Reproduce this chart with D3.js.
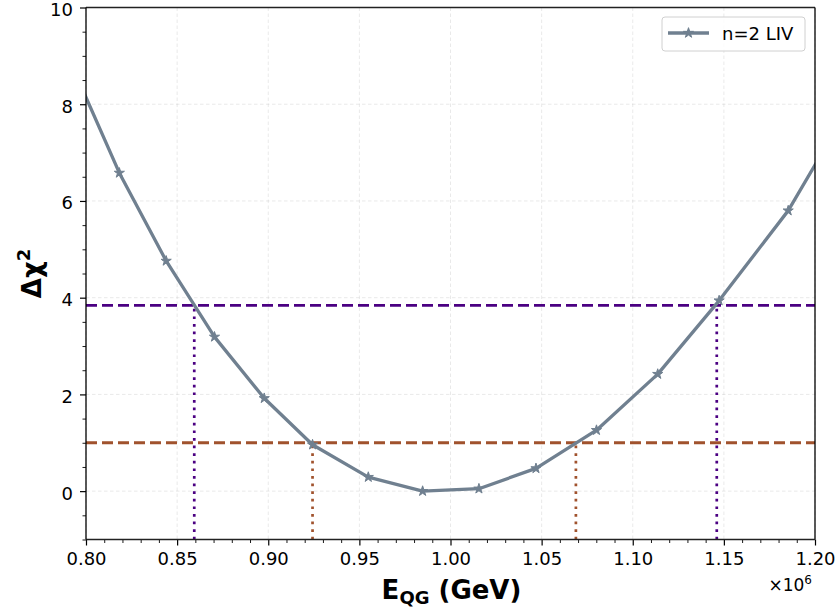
<!DOCTYPE html>
<html>
<head>
<meta charset="utf-8">
<script src="https://cdn.jsdelivr.net/npm/d3@7"></script>
<style>
  body { margin: 0; background: #fff; }
  svg { display: block; font-family: "DejaVu Sans", sans-serif; }
</style>
</head>
<body>
<svg id="chart" width="839" height="615"></svg>
<script>
// ---- data (E_QG in units of 1e6 GeV) ----
const eqg   = [0.7937, 0.8183, 0.8440, 0.8705, 0.8978, 0.9243, 0.9549, 0.9847, 1.0156, 1.0469, 1.0801, 1.1137, 1.1474, 1.1853, 1.2217];
const dchi2 = [8.68,   6.58,   4.76,   3.19,   1.92,   0.96,   0.29,   0.00,   0.05,   0.47,   1.26,   2.42,   3.94,   5.80,   8.14];
const seriesName = "n=2 LIV";
const levels = [3.84, 1.0];
const levelColors = ["#4B0082", "#A0522D"];
const crossLeft  = [0.8594, 0.9243];
const crossRight = [1.1461, 1.0688];
const xTicks = [0.80, 0.85, 0.90, 0.95, 1.00, 1.05, 1.10, 1.15, 1.20];
const yTicks = [0, 2, 4, 6, 8, 10];
const xDomain = [0.80, 1.20];
const yDomain = [-1, 10];

const svg = d3.select("#chart");
const L = 86, R = 815, T = 7.5, B = 539.5;
const x = d3.scaleLinear().domain(xDomain).range([L, R]);
const y = d3.scaleLinear().domain(yDomain).range([B, T]);

// clip
svg.append("defs").append("clipPath").attr("id", "clip")
  .append("rect").attr("x", L).attr("y", T).attr("width", R - L).attr("height", B - T);

// grid
const grid = svg.append("g");
grid.selectAll(".gx").data(xTicks).join("line")
  .attr("x1", d => x(d)).attr("x2", d => x(d)).attr("y1", T).attr("y2", B)
  .attr("stroke", "#b0b0b0").attr("stroke-opacity", 0.35).attr("stroke-width", 0.8).attr("stroke-dasharray", "3.5,2.5");
grid.selectAll(".gy").data(yTicks).join("line")
  .attr("y1", d => y(d)).attr("y2", d => y(d)).attr("x1", L).attr("x2", R)
  .attr("stroke", "#b0b0b0").attr("stroke-opacity", 0.35).attr("stroke-width", 0.8).attr("stroke-dasharray", "3.5,2.5");

const plot = svg.append("g").attr("clip-path", "url(#clip)");

// horizontal threshold lines
levels.forEach((lv, i) => {
  plot.append("line")
    .attr("x1", L).attr("x2", R).attr("y1", y(lv)).attr("y2", y(lv))
    .attr("stroke", levelColors[i]).attr("stroke-width", 2.8).attr("stroke-dasharray", "11,5");
});
// vertical dotted lines
levels.forEach((lv, i) => {
  [crossLeft[i], crossRight[i]].forEach(cx => {
    plot.append("line")
      .attr("x1", x(cx)).attr("x2", x(cx)).attr("y1", y(yDomain[0])).attr("y2", y(lv))
      .attr("stroke", levelColors[i]).attr("stroke-width", 2.7).attr("stroke-dasharray", "2.7,4.9");
  });
});

// curve
const line = d3.line().x((d, i) => x(eqg[i])).y(d => y(d));
plot.append("path").datum(dchi2).attr("d", line)
  .attr("fill", "none").attr("stroke", "#708090").attr("stroke-width", 3.3).attr("stroke-linejoin", "round");
const star = d3.symbol().type(d3.symbolStar).size(32);
plot.selectAll(".pt").data(dchi2).join("path")
  .attr("d", star)
  .attr("transform", (d, i) => `translate(${x(eqg[i])},${y(d)})`)
  .attr("fill", "#708090").attr("stroke", "#708090").attr("stroke-width", 1);

// axes
const xAxis = svg.append("g").attr("transform", `translate(0,${B})`)
  .call(d3.axisBottom(x).tickValues(xTicks).tickFormat(d3.format(".2f")).tickSize(6).tickPadding(7));
const yAxis = svg.append("g").attr("transform", `translate(${L},0)`)
  .call(d3.axisLeft(y).tickValues(yTicks).tickFormat(d3.format("d")).tickSize(6).tickPadding(7));
[xAxis, yAxis].forEach(g => {
  g.select(".domain").remove();
  g.selectAll("text").attr("font-size", 18).attr("fill", "#000").attr("font-family", "DejaVu Sans");
  g.selectAll("line").attr("stroke", "#000").attr("stroke-width", 1.2);
});
yAxis.selectAll("text").attr("dy", "0.44em");
// minor ticks
const xMinor = d3.range(80, 121).map(v => v / 100).filter(v => !xTicks.some(t => Math.abs(t - v) < 1e-9));
const yMinor = d3.range(-2, 21).map(v => v / 2).filter(v => !yTicks.includes(v));
svg.append("g").attr("transform", `translate(0,${B})`)
  .call(d3.axisBottom(x).tickValues(xMinor).tickSize(3.5).tickFormat(""))
  .call(g => g.select(".domain").remove())
  .selectAll("line").attr("stroke", "#000").attr("stroke-width", 0.9);
svg.append("g").attr("transform", `translate(${L},0)`)
  .call(d3.axisLeft(y).tickValues(yMinor).tickSize(3.5).tickFormat(""))
  .call(g => g.select(".domain").remove())
  .selectAll("line").attr("stroke", "#000").attr("stroke-width", 0.9);

// frame
svg.append("line").attr("x1", L).attr("x2", R).attr("y1", T).attr("y2", T).attr("stroke", "#222").attr("stroke-width", 1.3);
svg.append("line").attr("x1", R).attr("x2", R).attr("y1", T).attr("y2", B).attr("stroke", "#000").attr("stroke-width", 1.3);
svg.append("line").attr("x1", L).attr("x2", R).attr("y1", B).attr("y2", B).attr("stroke", "#222").attr("stroke-width", 1.3);
svg.append("line").attr("x1", L).attr("x2", L).attr("y1", T).attr("y2", B).attr("stroke", "#000").attr("stroke-width", 1.3);

// offset text
const off = svg.append("text").attr("x", R - 3).attr("y", 591).attr("text-anchor", "end")
  .attr("font-size", 17).attr("fill", "#000");
off.append("tspan").text("×10");
off.append("tspan").attr("font-size", 12).attr("dy", -7).text("6");

// axis labels
const xl = svg.append("text").attr("x", (L + R) / 2 + 1).attr("y", 599).attr("text-anchor", "middle")
  .attr("font-size", 26).attr("font-weight", "bold").attr("fill", "#000");
xl.append("tspan").text("E");
xl.append("tspan").attr("font-size", 18).attr("dy", 5).text("QG");
xl.append("tspan").attr("dy", -5).text(" (GeV)");

const yl = svg.append("text").attr("transform", `translate(41,${(T + B) / 2}) rotate(-90)`)
  .attr("text-anchor", "middle").attr("font-size", 26).attr("font-weight", "bold").attr("fill", "#000");
yl.append("tspan").text("Δχ");
yl.append("tspan").attr("font-size", 18).attr("dy", -11).text("2");

// legend
const lg = svg.append("g");
lg.append("rect").attr("x", 662).attr("y", 17).attr("width", 143).attr("height", 34).attr("rx", 3)
  .attr("fill", "#fff").attr("fill-opacity", 0.8).attr("stroke", "#d0d0d0").attr("stroke-width", 1);
lg.append("line").attr("x1", 668).attr("x2", 709).attr("y1", 33).attr("y2", 33)
  .attr("stroke", "#708090").attr("stroke-width", 3.3);
lg.append("path").attr("d", star).attr("transform", "translate(688.5,33)").attr("fill", "#708090").attr("stroke", "#708090");
lg.append("text").attr("x", 722).attr("y", 39.5).attr("font-size", 18).attr("fill", "#000").text(seriesName);
</script>
</body>
</html>
